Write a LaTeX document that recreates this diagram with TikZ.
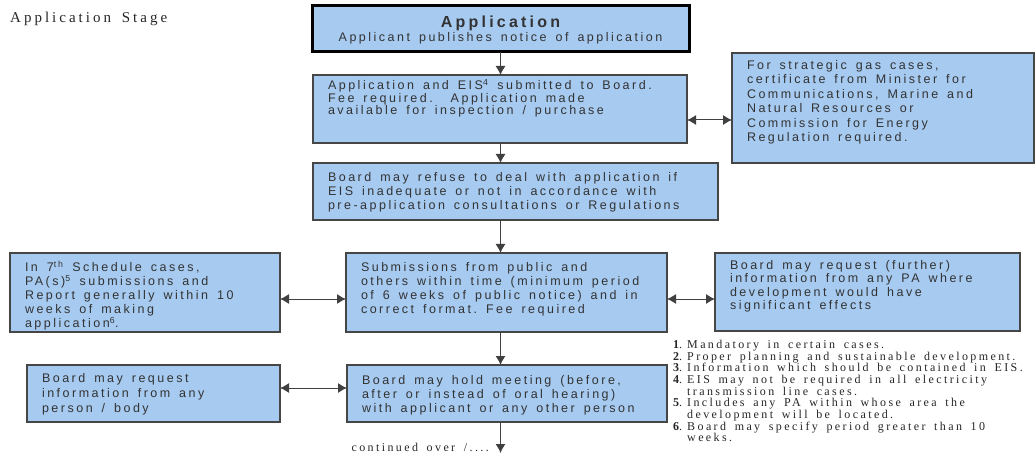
\documentclass[tikz,border=0pt]{standalone}
\usepackage{fontspec}
\setmainfont{Liberation Serif}[LetterSpace=20, WordSpace=1.6]
\setsansfont{Liberation Sans}[LetterSpace=20, WordSpace=1.5]
\usetikzlibrary{arrows.meta,
                positioning}
\definecolor{boxblue}{RGB}{166,202,240}
\definecolor{boxline}{RGB}{70,70,70}
\tikzset{stagebox/.style =
   {rectangle,
    draw=boxline,
    line width=1.2pt,
    fill=boxblue,
    anchor=north west,
    outer sep=0pt,
    inner xsep=15pt,
    inner ysep=0pt,
    align=flush left,
    text=black!80,
    text height=9pt,
    execute at begin node={\rightskip=0pt plus 1fil minus 100pt},
    font=\sffamily\fontsize{12.5}{14}\selectfont}}
\tikzset{arrow/.style = {draw=black!75, line width=1pt, -{Latex[length=9pt,width=10pt]}}}
\tikzset{twoway/.style = {draw=black!75, line width=1pt, {Latex[length=9pt,width=10pt]}-{Latex[length=9pt,width=10pt]}}}
\tikzset{note/.style = {inner sep=0pt, text=black!85, font=\rmfamily\fontsize{12}{11}\selectfont}}

\begin{document}
\begin{tikzpicture}[x=1pt, y=-1pt]

    \useasboundingbox (0,0) rectangle (1035,454);

    \node [note, anchor=base west, font=\rmfamily\fontsize{15}{15}\selectfont] (stage) at (10,23)
     {Application Stage};

    % main column
    \node [stagebox, draw=black, line width=3pt, align=flush center,
           minimum width=377pt, minimum height=46pt, text width=347pt,
           text height=11pt, text depth=14pt] (app) at (312,6)
     {{\fontsize{16}{16.5}\selectfont\bfseries Application}\\
      Applicant publishes notice of application};

    \node [stagebox, minimum width=374pt, minimum height=68pt, text width=344pt,
           text depth=48pt, font=\sffamily\fontsize{12.5}{11.5}\selectfont] (submit) at (313,75)
     {Application and EIS\textsuperscript{4} submitted to Board.\\
      Fee required.\ \ Application made\\
      available for inspection / purchase};

    \node [stagebox, minimum width=405pt, minimum height=57pt, text width=375pt,
           text depth=29pt] (refuse) at (313,163)
     {Board may refuse to deal with application if\\
      EIS inadequate or not in accordance with\\
      pre-application consultations or Regulations};

    \node [stagebox, minimum width=321pt, minimum height=79pt, text width=291pt,
           text depth=51pt] (subm) at (346,253)
     {Submissions from public and\\
      others within time (minimum period\\
      of 6 weeks of public notice) and in\\
      correct format.\ Fee required};

    \node [stagebox, minimum width=320pt, minimum height=57pt, text width=290pt,
           text depth=27pt] (meet) at (347,365)
     {Board may hold meeting (before,\\
      after or instead of oral hearing)\\
      with applicant or any other person};

    % side boxes
    \node [stagebox, minimum width=302pt, minimum height=110pt, text width=272pt,
           text depth=86pt, font=\sffamily\fontsize{12.5}{14.4}\selectfont] (cert) at (732,53)
     {For strategic gas cases,\\
      certificate from Minister for\\
      Communications, Marine and\\
      Natural Resources or\\
      Commission for Energy\\
      Regulation required.};

    \node [stagebox, minimum width=270pt, minimum height=79pt, text width=240pt,
           text depth=51pt] (sched) at (10,253)
     {In 7\textsuperscript{th} Schedule cases,\\
      PA(s)\textsuperscript{5} submissions and\\
      Report generally within 10\\
      weeks of making\\
      application\textsuperscript{6}.};

    \node [stagebox, minimum width=305pt, minimum height=78pt, text width=275pt,
           text depth=54pt, font=\sffamily\fontsize{12.5}{13.3}\selectfont] (further) at (715,253)
     {Board may request (further)\\
      information from any PA where\\
      development would have\\
      significant effects};

    \node [stagebox, minimum width=253pt, minimum height=57pt, text width=223pt,
           text depth=31pt, font=\sffamily\fontsize{12.5}{15}\selectfont] (person) at (27,365)
     {Board may request\\
      information from any\\
      person / body};

    % connectors
    \coordinate (cont) at (500.5,453);
    \draw [arrow] (app.south) -- (app.south |- submit.north);
    \draw [arrow] (app.south |- submit.south) -- (app.south |- refuse.north);
    \draw [arrow] (app.south |- refuse.south) -- (app.south |- subm.north);
    \draw [arrow] (app.south |- subm.south) -- (app.south |- meet.north);
    \draw [arrow] (app.south |- meet.south) -- (cont);

    \draw [twoway] ([yshift=-11pt]submit.east) -- ([yshift=-11pt]submit.east -| cert.west);
    \draw [twoway] ([yshift=-6.5pt]sched.east) -- ([yshift=-6.5pt]sched.east -| subm.west);
    \draw [twoway] ([yshift=-6.5pt]subm.east) -- ([yshift=-6.5pt]subm.east -| further.west);
    \draw [twoway] ([yshift=5.5pt]person.east) -- ([yshift=5.5pt]person.east -| meet.west);

    \node [note, anchor=base east] (contd) at (489,451) {continued over /....};

    % footnotes
    \node [note, anchor=north west] (notes) at (673,340)
     {\begin{tabular}{@{}l@{\hspace{5pt}}l@{}}
      \textbf{1}. & Mandatory in certain cases.\\
      \textbf{2}. & Proper planning and sustainable development.\\
      \textbf{3}. & Information which should be contained in EIS.\\
      \textbf{4}. & EIS may not be required in all electricity\\
                  & transmission line cases.\\
      \textbf{5}. & Includes any PA within whose area the\\
                  & development will be located.\\
      \textbf{6}. & Board may specify period greater than 10\\
                  & weeks.
      \end{tabular}};

\end{tikzpicture}
\end{document}
